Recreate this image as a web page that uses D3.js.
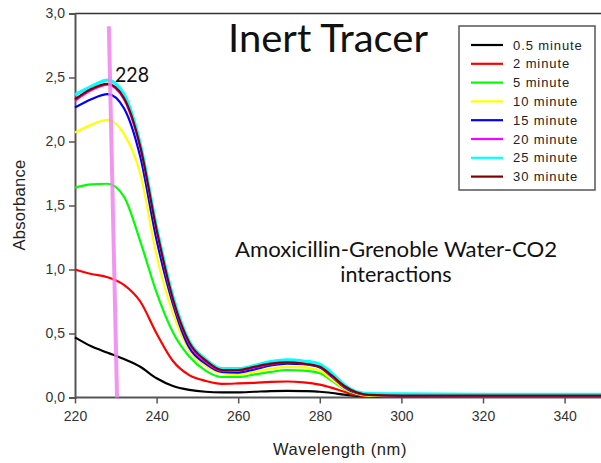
<!DOCTYPE html>
<html>
<head>
<meta charset="utf-8">
<script src="https://cdn.jsdelivr.net/npm/d3@7"></script>
<style>
  html, body { margin: 0; padding: 0; background: #fff; }
  svg { display: block; }
</style>
</head>
<body>
<svg id="chart" width="601" height="463"></svg>
<script>
// Wavelength grid (nm) shared by every spectrum
const wavelengths = [220, 224, 228, 232, 236, 240, 244, 248, 252, 256, 260, 264, 268, 272, 276, 280, 283, 286, 289, 292, 300, 320, 350];

// Absorbance spectra, one per sampling time
const abs05 = [0.47, 0.40, 0.35, 0.30, 0.24, 0.15, 0.09, 0.06, 0.045, 0.04, 0.04, 0.045, 0.05, 0.052, 0.05, 0.045, 0.035, 0.022, 0.012, 0.008, 0.006, 0.005, 0.005];
const abs2  = [1.00, 0.965, 0.94, 0.88, 0.75, 0.50, 0.285, 0.175, 0.13, 0.107, 0.11, 0.115, 0.122, 0.125, 0.118, 0.10, 0.075, 0.045, 0.02, 0.01, 0.008, 0.006, 0.006];
const abs5  = [1.64, 1.665, 1.67, 1.57, 1.22, 0.82, 0.51, 0.32, 0.21, 0.16, 0.16, 0.18, 0.20, 0.215, 0.21, 0.19, 0.13, 0.065, 0.03, 0.015, 0.01, 0.01, 0.01];
const abs10 = [2.07, 2.13, 2.17, 2.06, 1.75, 1.11, 0.66, 0.37, 0.25, 0.19, 0.18, 0.20, 0.225, 0.24, 0.235, 0.21, 0.14, 0.07, 0.03, 0.015, 0.012, 0.012, 0.012];
const abs15 = [2.265, 2.33, 2.37, 2.26, 1.88, 1.23, 0.73, 0.39, 0.265, 0.20, 0.195, 0.22, 0.25, 0.265, 0.26, 0.235, 0.16, 0.08, 0.035, 0.02, 0.014, 0.014, 0.014];
const abs20 = [2.32, 2.40, 2.445, 2.33, 1.95, 1.30, 0.76, 0.42, 0.28, 0.21, 0.21, 0.235, 0.26, 0.275, 0.265, 0.24, 0.165, 0.085, 0.04, 0.022, 0.016, 0.016, 0.016];
const abs25 = [2.365, 2.43, 2.48, 2.37, 1.98, 1.33, 0.79, 0.44, 0.30, 0.225, 0.225, 0.25, 0.28, 0.295, 0.285, 0.26, 0.19, 0.10, 0.045, 0.03, 0.028, 0.025, 0.025];
const abs30 = [2.33, 2.41, 2.45, 2.34, 1.96, 1.31, 0.77, 0.43, 0.29, 0.215, 0.215, 0.24, 0.265, 0.275, 0.265, 0.24, 0.17, 0.09, 0.04, 0.02, 0.015, 0.015, 0.015];

const seriesNames  = ["0.5 minute", "2 minute", "5 minute", "10 minute", "15 minute", "20 minute", "25 minute", "30 minute"];
const seriesValues = [abs05, abs2, abs5, abs10, abs15, abs20, abs25, abs30];
const seriesColors = ["#000000", "#ff0000", "#00ff00", "#ffff00", "#0000ff", "#ff00ff", "#00ffff", "#800000"];

// Axis ticks
const xTicks = [220, 240, 260, 280, 300, 320, 340];
const yTicks = [0, 0.5, 1.0, 1.5, 2.0, 2.5, 3.0];

// Peak marker: a slightly slanted guide line around 228 nm
const peakLabel = "228";
const peakLine = [{w: 228.3, a: 2.9}, {w: 230.3, a: 0}];

const svg = d3.select("#chart");
const margin = {left: 75, top: 13.5, bottom: 397.5};
const x = d3.scaleLinear().domain([220, 350]).range([margin.left, margin.left + 130 * 4.08]);
const y = d3.scaleLinear().domain([0, 3]).range([margin.bottom, margin.top]);

const axisFont = "'Liberation Sans', Arial, sans-serif";
const textFont = "Lato, 'Open Sans', sans-serif";

// Top frame line
svg.append("line")
  .attr("x1", x(220)).attr("x2", 601)
  .attr("y1", y(3)).attr("y2", y(3))
  .attr("stroke", "#333").attr("stroke-width", 1.5);

// Y axis
const yAxis = svg.append("g")
  .attr("transform", `translate(${x(220)},0)`)
  .call(d3.axisLeft(y).tickValues(yTicks).tickSize(6).tickPadding(4)
    .tickFormat(d => d3.format(".1f")(d).replace(".", ",")));
// X axis
const xAxis = svg.append("g")
  .attr("transform", `translate(0,${y(0)})`)
  .call(d3.axisBottom(x).tickValues(xTicks).tickSize(6).tickPadding(8).tickFormat(d3.format("d")));

[yAxis, xAxis].forEach(g => {
  g.select(".domain").attr("stroke", "#555").attr("stroke-width", 2);
  g.selectAll(".tick line").attr("stroke", "#555").attr("stroke-width", 1.5);
  g.selectAll(".tick text").attr("fill", "#333").style("font-family", axisFont).style("font-size", "14px");
});
xAxis.select(".domain").attr("d", `M${x(220)},0H601`);

// Spectra
const line = d3.line()
  .x((d, i) => x(wavelengths[i]))
  .y(d => y(d))
  .curve(d3.curveMonotoneX);

svg.append("g").selectAll("path")
  .data(seriesValues)
  .join("path")
  .attr("d", d => line(d))
  .attr("fill", "none")
  .attr("stroke", (d, i) => seriesColors[i])
  .attr("stroke-width", (d, i) => i === 6 ? 3.2 : 2.2)
  .attr("stroke-linejoin", "round");

// Peak guide line
svg.append("line")
  .attr("x1", x(peakLine[0].w)).attr("y1", y(peakLine[0].a))
  .attr("x2", x(peakLine[1].w)).attr("y2", y(peakLine[1].a))
  .attr("stroke", "#ee82ee").attr("stroke-opacity", 0.85).attr("stroke-width", 4);

svg.append("text")
  .attr("x", 115).attr("y", 82)
  .style("font-family", textFont).style("font-size", "22px")
  .attr("textLength", 34).attr("lengthAdjust", "spacingAndGlyphs")
  .attr("fill", "#111")
  .text(peakLabel);

// Titles
svg.append("text")
  .attr("x", 328).attr("y", 52).attr("text-anchor", "middle")
  .style("font-family", textFont).style("font-size", "38px")
  .attr("textLength", 200).attr("lengthAdjust", "spacingAndGlyphs")
  .attr("fill", "#111")
  .text("Inert Tracer");

svg.append("text")
  .attr("x", 396).attr("y", 257).attr("text-anchor", "middle")
  .style("font-family", textFont).style("font-size", "21.5px")
  .attr("textLength", 322).attr("lengthAdjust", "spacingAndGlyphs")
  .attr("fill", "#111")
  .text("Amoxicillin-Grenoble Water-CO2");
svg.append("text")
  .attr("x", 396).attr("y", 282).attr("text-anchor", "middle")
  .style("font-family", textFont).style("font-size", "21.5px")
  .attr("fill", "#111")
  .text("interactions");

svg.append("text")
  .attr("x", 340).attr("y", 455).attr("text-anchor", "middle")
  .style("font-family", axisFont).style("font-size", "16.5px")
  .style("letter-spacing", "0.6px").attr("fill", "#222")
  .text("Wavelength (nm)");

svg.append("text")
  .attr("transform", "translate(25,205) rotate(-90)").attr("text-anchor", "middle")
  .style("font-family", axisFont).style("font-size", "16.5px")
  .style("letter-spacing", "0.3px").attr("fill", "#222")
  .text("Absorbance");

// Legend
const legend = svg.append("g");
legend.append("rect")
  .attr("x", 459).attr("y", 26).attr("width", 136).attr("height", 164)
  .attr("fill", "#fff").attr("stroke", "#555").attr("stroke-width", 1.5);
seriesNames.forEach((name, i) => {
  const ly = 45 + i * 18.8;
  legend.append("line")
    .attr("x1", 471).attr("x2", 503).attr("y1", ly).attr("y2", ly)
    .attr("stroke", seriesColors[i]).attr("stroke-width", 2.2);
  legend.append("text")
    .attr("x", 513).attr("y", ly).attr("dy", "0.35em")
    .style("font-family", axisFont).style("font-size", "13px")
    .style("letter-spacing", "0.9px").attr("fill", "#222")
    .text(name);
});
</script>
</body>
</html>
